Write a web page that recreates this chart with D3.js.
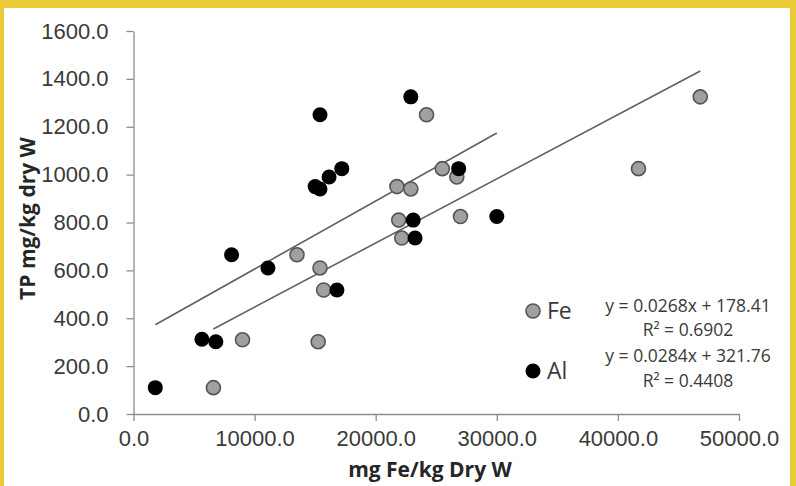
<!DOCTYPE html>
<html>
<head>
<meta charset="utf-8">
<script src="https://cdn.jsdelivr.net/npm/d3@7"></script>
<style>
  html, body { margin: 0; padding: 0; background: #fff; }
  svg { display: block; font-family: 'Open Sans', sans-serif; }
  .tick text { fill: #3a3a3a; font-size: 22px; }
  .axis path, .axis line { stroke: #8c8c8c; stroke-width: 1.3; }
</style>
</head>
<body>
<svg width="796" height="486"></svg>
<script>
// TP (mg/kg dry W) against metal content (mg/kg dry W)
const feX = [24200, 25500, 26700, 21750, 22900, 21900, 27000, 22150, 13500, 15400, 15700, 9000, 15250, 46800, 41700, 6600]
const feY = [1250, 1025, 990, 950, 940, 810, 825, 735, 665, 610, 518, 310, 302, 1325, 1025, 110]
const alX = [22900, 15400, 17200, 16150, 15000, 15400, 8100, 11100, 16800, 26850, 23100, 23250, 30000, 5650, 6800, 1800]
const alY = [1325, 1250, 1025, 990, 950, 940, 665, 610, 518, 1025, 810, 735, 825, 312, 302, 110]

// linear trendlines as printed on the chart
const feFit = [0.0268, 178.41]
const alFit = [0.0284, 321.76]
const fitLabels = ['y = 0.0268x + 178.41', 'R² = 0.6902', 'y = 0.0284x + 321.76', 'R² = 0.4408']

const xTicks = [0, 10000, 20000, 30000, 40000, 50000]
const yTicks = [0, 200, 400, 600, 800, 1000, 1200, 1400, 1600]

const svg = d3.select('svg')

// yellow frame
svg.append('rect').attr('width', 796).attr('height', 486).attr('fill', '#e8cb36')
svg.append('rect').attr('x', 4).attr('y', 8).attr('width', 786).attr('height', 478).attr('fill', '#fff')

const x = d3.scaleLinear().domain([0, 50000]).range([133.5, 739])
const y = d3.scaleLinear().domain([0, 1600]).range([414, 31])

svg.append('g').attr('class', 'axis')
  .attr('transform', `translate(0, ${y(0)})`)
  .call(d3.axisBottom(x).tickValues(xTicks).tickFormat(d3.format('.1f')).tickSize(7).tickSizeOuter(0).tickPadding(9))
  .call(g => g.selectAll('.tick text').attr('dy', '0.71em'))

svg.append('g').attr('class', 'axis')
  .attr('transform', `translate(${x(0)}, 0)`)
  .call(d3.axisLeft(y).tickValues(yTicks).tickFormat(d3.format('.1f')).tickSize(7).tickSizeOuter(0).tickPadding(18))

svg.append('text')
  .attr('x', 430).attr('y', 477)
  .attr('text-anchor', 'middle')
  .attr('font-size', 21).attr('font-weight', 'bold').attr('fill', '#262626')
  .text('mg Fe/kg Dry W')

svg.append('text')
  .attr('transform', `translate(35, ${y(800) - 4}) rotate(-90)`)
  .attr('text-anchor', 'middle')
  .attr('font-size', 21).attr('font-weight', 'bold').attr('fill', '#262626')
  .text('TP mg/kg dry W')

// trendlines drawn across each series' x extent
const line = d3.line().x(d => x(d[0])).y(d => y(d[1]))
const fitPoints = (xs, [m, b]) => d3.extent(xs).map(v => [v, m * v + b])
svg.append('g').selectAll('path')
  .data([fitPoints(alX, alFit), fitPoints(feX, feFit)])
  .join('path')
    .attr('d', line)
    .attr('fill', 'none')
    .attr('stroke', '#606060')
    .attr('stroke-width', 1.6)

svg.append('g').selectAll('circle')
  .data(d3.zip(feX, feY))
  .join('circle')
    .attr('cx', d => x(d[0])).attr('cy', d => y(d[1]))
    .attr('r', 7)
    .attr('fill', '#a0a0a0').attr('stroke', '#555').attr('stroke-width', 1.6)

svg.append('g').selectAll('circle')
  .data(d3.zip(alX, alY))
  .join('circle')
    .attr('cx', d => x(d[0])).attr('cy', d => y(d[1]))
    .attr('r', 7.5)
    .attr('fill', '#000')

// legend
const legend = svg.append('g')
legend.append('circle').attr('cx', 533).attr('cy', 311).attr('r', 7)
  .attr('fill', '#a0a0a0').attr('stroke', '#555').attr('stroke-width', 1.6)
legend.append('circle').attr('cx', 533).attr('cy', 371).attr('r', 7.5).attr('fill', '#000')
legend.selectAll('text.name')
  .data([['Fe', 311], ['Al', 371]])
  .join('text').attr('class', 'name')
    .attr('x', 547).attr('y', d => d[1]).attr('dy', '0.36em')
    .attr('font-size', 23).attr('fill', '#3a3a3a')
    .text(d => d[0])

legend.selectAll('text.fit')
  .data(fitLabels)
  .join('text').attr('class', 'fit')
    .attr('x', 688).attr('y', (d, i) => [306, 330, 356, 381][i]).attr('dy', '0.35em')
    .attr('text-anchor', 'middle')
    .attr('font-size', 17.5).attr('fill', '#3a3a3a')
    .text(d => d)
</script>
</body>
</html>
